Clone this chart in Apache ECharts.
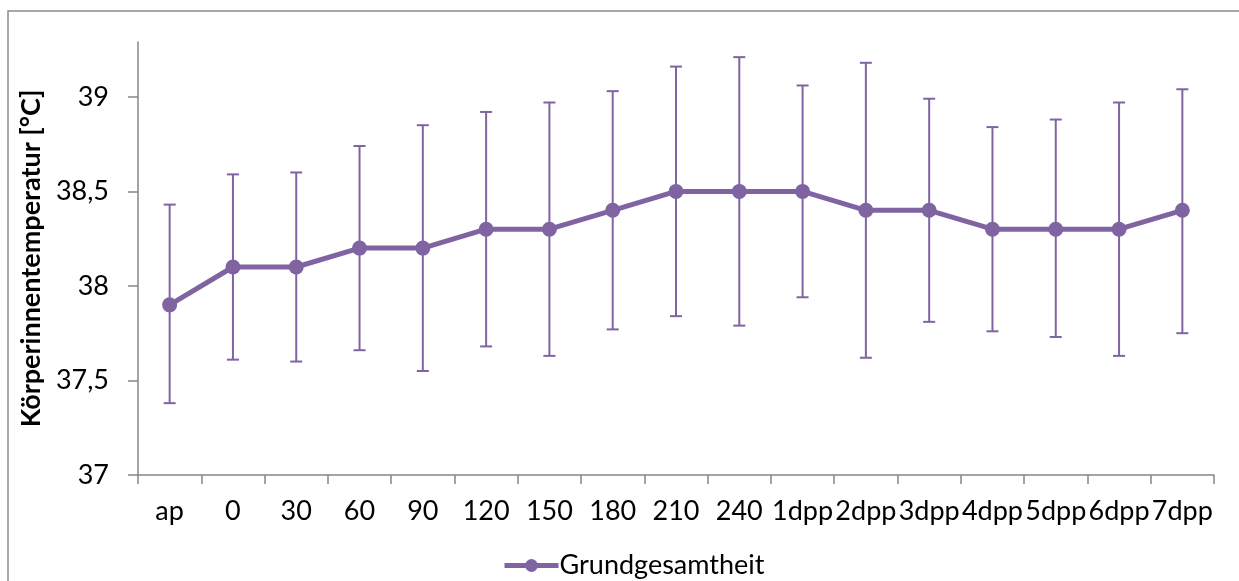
<!DOCTYPE html>
<html>
<head>
<meta charset="utf-8">
<script src="https://cdn.jsdelivr.net/npm/echarts@6/dist/echarts.min.js"></script>
<style>
  html, body { margin: 0; padding: 0; background: #fff; }
  #main { width: 1239px; height: 581px; }
</style>
</head>
<body>
<div id="main"></div>
<script>
// Zeitpunkte
const categories = ['ap', '0', '30', '60', '90', '120', '150', '180', '210', '240', '1dpp', '2dpp', '3dpp', '4dpp', '5dpp', '6dpp', '7dpp'];
// Mittelwerte Körperinnentemperatur
const meanValues = [37.9, 38.1, 38.1, 38.2, 38.2, 38.3, 38.3, 38.4, 38.5, 38.5, 38.5, 38.4, 38.4, 38.3, 38.3, 38.3, 38.4];
// Fehlerbalken oben / unten
const upperValues = [38.43, 38.59, 38.60, 38.74, 38.85, 38.92, 38.97, 39.03, 39.16, 39.21, 39.06, 39.18, 38.99, 38.84, 38.88, 38.97, 39.04];
const lowerValues = [37.38, 37.61, 37.60, 37.66, 37.55, 37.68, 37.63, 37.77, 37.84, 37.79, 37.94, 37.62, 37.81, 37.76, 37.73, 37.63, 37.75];
const yTicks = [37, 37.5, 38, 38.5, 39];

const seriesName = 'Grundgesamtheit';
const purple = '#8064A2';
const axisGray = '#868686';
const font = 'Lato';

const errorData = categories.map((c, i) => [i, lowerValues[i], upperValues[i]]);

const chart = echarts.init(document.getElementById('main'), null, { renderer: 'canvas' });

chart.setOption({
    animation: false,
    textStyle: { fontFamily: font },
    graphic: [{
        type: 'rect',
        shape: { x: 8, y: 11, width: 1400, height: 800 },
        style: { fill: 'none', stroke: '#8c8c8c', lineWidth: 1.5 },
        silent: true
    }],
    grid: { left: 138, right: 25, top: 42, bottom: 106 },
    legend: {
        data: [seriesName],
        left: 497,
        top: 547,
        itemWidth: 54,
        itemHeight: 16,
        itemGap: 5,
        lineStyle: { width: 5 },
        textStyle: { fontFamily: font, fontSize: 27, color: '#000', padding: [0, 0, 0, -4] }
    },
    xAxis: {
        type: 'category',
        data: categories,
        boundaryGap: true,
        axisLine: { lineStyle: { color: axisGray, width: 1.5 } },
        axisTick: { show: true, interval: 0, length: 9, lineStyle: { color: axisGray, width: 1.5 } },
        axisLabel: { interval: 0, margin: 23, fontFamily: font, fontSize: 27, color: '#000' },
        splitLine: { show: false }
    },
    yAxis: {
        type: 'value',
        min: 37,
        max: 39.29,
        interval: 0.5,
        name: 'Körperinnentemperatur [°C]',
        nameLocation: 'middle',
        nameGap: 85,
        nameTextStyle: { fontFamily: font, fontSize: 27, fontWeight: 'bold', color: '#000' },
        axisLine: { show: true, lineStyle: { color: axisGray, width: 1.5 } },
        axisTick: { show: true, length: 10, customValues: yTicks, lineStyle: { color: axisGray, width: 1.5 } },
        axisLabel: {
            customValues: yTicks,
            margin: 29,
            fontFamily: font,
            fontSize: 27,
            color: '#000',
            formatter: v => String(v).replace('.', ',')
        },
        splitLine: { show: false }
    },
    series: [
        {
            type: 'custom',
            name: 'Fehler',
            z: 1,
            silent: true,
            data: errorData,
            encode: { x: 0, y: [1, 2] },
            renderItem: (params, api) => {
                const idx = api.value(0);
                const lo = api.coord([idx, api.value(1)]);
                const hi = api.coord([idx, api.value(2)]);
                const half = 6;
                const st = { stroke: purple, lineWidth: 2 };
                return {
                    type: 'group',
                    children: [
                        { type: 'line', shape: { x1: hi[0], y1: hi[1], x2: lo[0], y2: lo[1] }, style: st },
                        { type: 'line', shape: { x1: hi[0] - half, y1: hi[1], x2: hi[0] + half, y2: hi[1] }, style: st },
                        { type: 'line', shape: { x1: lo[0] - half, y1: lo[1], x2: lo[0] + half, y2: lo[1] }, style: st }
                    ]
                };
            }
        },
        {
            type: 'line',
            name: seriesName,
            z: 3,
            data: meanValues,
            symbol: 'circle',
            symbolSize: 15,
            itemStyle: { color: purple },
            lineStyle: { color: purple, width: 5 }
        }
    ]
});
</script>
</body>
</html>
